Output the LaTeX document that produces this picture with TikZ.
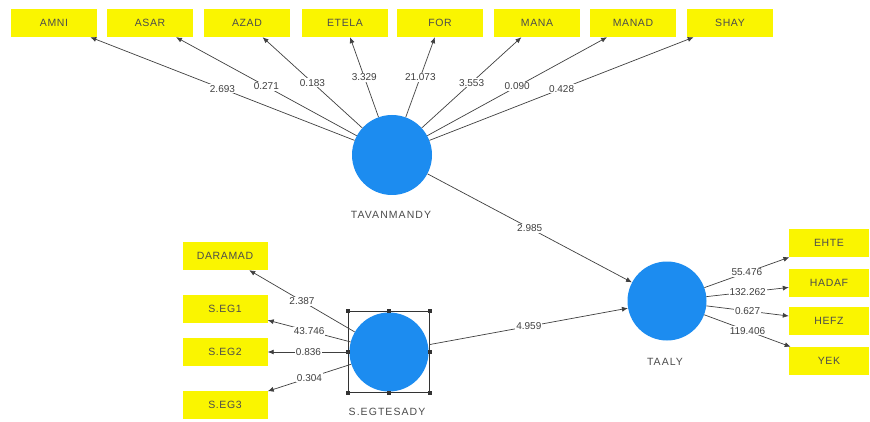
\documentclass[tikz,border=0pt]{standalone}
\usepackage{fontspec}
\setmainfont{Liberation Sans}
\newfontfamily\plsfont[LetterSpace=6]{Liberation Sans}
\newfontfamily\plswide[LetterSpace=10]{Liberation Sans}
\usetikzlibrary{arrows.meta}
\definecolor{plsblue}{RGB}{28,140,240}
\definecolor{plsyellow}{RGB}{250,245,0}

\begin{document}
\begin{tikzpicture}[x=1pt,y=-1pt,
		ind/.style={fill=plsyellow,minimum width=86pt,minimum height=28pt,inner sep=0pt,font=\plsfont\fontsize{10.5}{12}\selectfont,text=black!70},
		lat/.style={circle,fill=plsblue,minimum size=79pt,inner sep=0pt},
		lab/.style={font=\plswide\fontsize{10.5}{12}\selectfont,text=black!70},
		wt/.style={fill=white,inner sep=1pt,font=\fontsize{10}{11}\selectfont,text=black!75},
		arr/.style={draw=black!75,line width=0.7pt,-{Latex[length=6pt,width=5pt]}}]
		\useasboundingbox[fill=white] (0,0) rectangle (870,422);

		\node[ind] (amni) at (54,23) {AMNI};
		\node[ind] (asar) at (150,23) {ASAR};
		\node[ind] (azad) at (247,23) {AZAD};
		\node[ind] (etela) at (345,23) {ETELA};
		\node[ind] (for) at (440,23) {FOR};
		\node[ind] (mana) at (537,23) {MANA};
		\node[ind] (manad) at (633,23) {MANAD};
		\node[ind] (shay) at (730,23) {SHAY};

		\node[ind,minimum width=85pt] (daramad) at (225,256) {DARAMAD};
		\node[ind,minimum width=85pt] (seg1) at (225,309) {S.EG1};
		\node[ind,minimum width=85pt] (seg2) at (225,352) {S.EG2};
		\node[ind,minimum width=85pt] (seg3) at (225,405) {S.EG3};

		\node[ind,minimum width=80pt] (ehte) at (829,243) {EHTE};
		\node[ind,minimum width=80pt] (hadaf) at (829,283) {HADAF};
		\node[ind,minimum width=80pt] (hefz) at (829,321) {HEFZ};
		\node[ind,minimum width=80pt] (yek) at (829,361) {YEK};

		\node[lat,minimum size=80pt] (tav) at (392,155) {};
		\node[lat] (seg) at (389,352) {};
		\node[lat] (taaly) at (667,301) {};

		\node[lab] at (391,215) {TAVANMANDY};
		\node[lab] at (387,412) {S.EGTESADY};
		\node[lab] at (665,362) {TAALY};

		\node[draw=black!80,line width=0.5pt,minimum size=81pt,inner sep=0pt] (sel) at (389,352) {};
		\foreach \a in {north west,north,north east,east,south east,south,south west,west}
			\fill[black!80] (sel.\a) +(-2,-2) rectangle +(2,2);

		\draw[arr] (tav) -- node[wt] {2.693} (amni);
		\draw[arr] (tav) -- node[wt] {0.271} (asar);
		\draw[arr] (tav) -- node[wt] {0.183} (azad);
		\draw[arr] (tav) -- node[wt] {3.329} (etela);
		\draw[arr] (tav) -- node[wt] {21.073} (for);
		\draw[arr] (tav) -- node[wt] {3.553} (mana);
		\draw[arr] (tav) -- node[wt] {0.090} (manad);
		\draw[arr] (tav) -- node[wt] {0.428} (shay);

		\draw[arr] (seg) -- node[wt] {2.387} (daramad);
		\draw[arr] (seg) -- node[wt] {43.746} (seg1);
		\draw[arr] (seg) -- node[wt] {0.836} (seg2);
		\draw[arr] (seg) -- node[wt] {0.304} (seg3);

		\draw[arr] (taaly) -- node[wt] {55.476} (ehte);
		\draw[arr] (taaly) -- node[wt] {132.262} (hadaf);
		\draw[arr] (taaly) -- node[wt] {0.627} (hefz);
		\draw[arr] (taaly) -- node[wt] {119.406} (yek);

		\draw[arr] (tav) -- node[wt] {2.985} (taaly);
		\draw[arr] (sel) -- node[wt] {4.959} (taaly);

	\end{tikzpicture}
\end{document}
